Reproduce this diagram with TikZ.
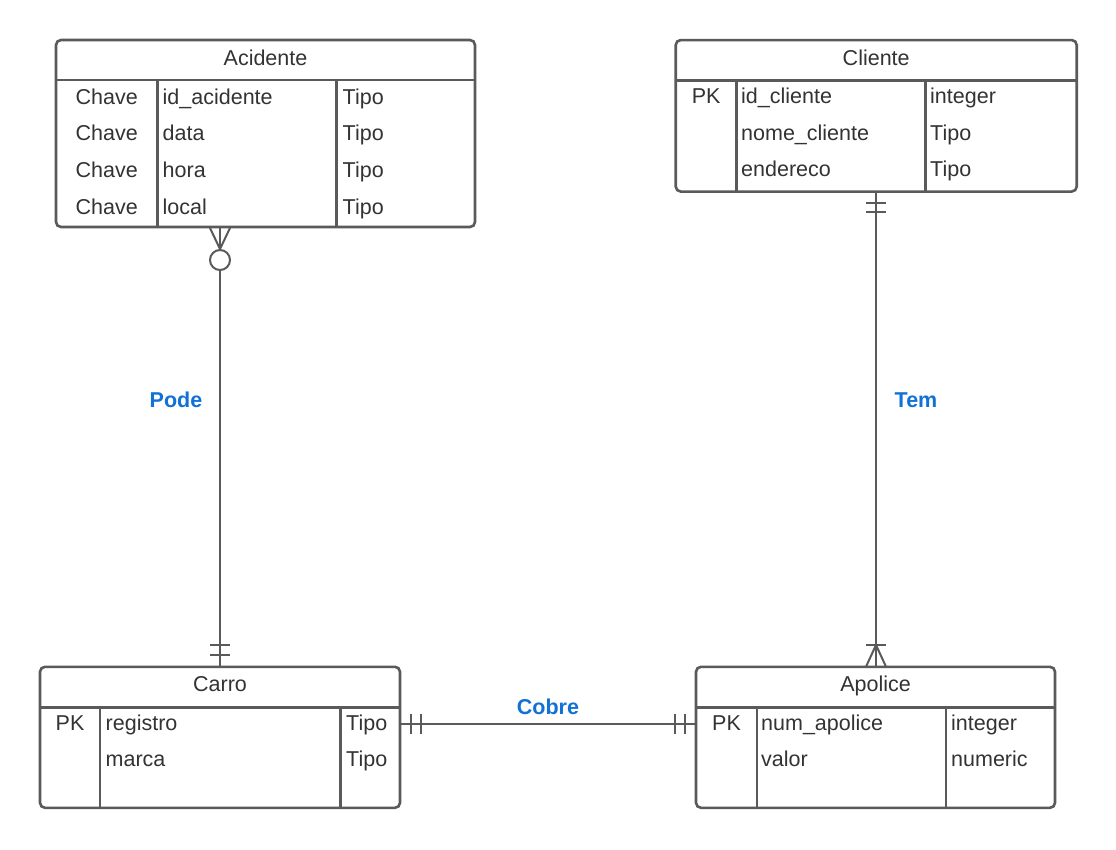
\documentclass[tikz,border=0pt]{standalone}
\usepackage{fontspec}
\setmainfont{Liberation Sans}
\definecolor{ln}{HTML}{5A5A5A}
\definecolor{tx}{HTML}{333333}
\definecolor{lb}{HTML}{1271D6}
\begin{document}
\begin{tikzpicture}[x=1pt,y=-1pt,
  tbl/.style={draw=ln,line width=2.6pt,rounded corners=5pt,inner sep=0pt,fill=white},
  sep/.style={draw=ln,line width=2.6pt},
  conn/.style={draw=ln,line width=2pt},
  txt/.style={inner sep=0pt,text=tx,font=\fontsize{21.5}{26}\selectfont},
  lt/.style={txt,anchor=base west},
  ct/.style={txt,anchor=base},
  rel/.style={inner sep=0pt,text=lb,font=\fontsize{21.5}{26}\selectfont\bfseries}]
\useasboundingbox[fill=white] (0,0) rectangle (1116,849);

% ---------- Acidente
\node[tbl,minimum width=419pt,minimum height=187pt] (acid) at (265.5,133.5) {};
\draw[sep] (56,80) -- (475,80);
\draw[sep] (157.3,80) -- (157.3,227);
\draw[sep] (336.7,80) -- (336.7,227);
\node[ct] (acidh) at (265.5,65) {Acidente};
\foreach \n/\y/\f in {1/104/id\_acidente,2/140.7/data,3/177.3/hora,4/214/local}{
  \node[ct] (acidk\n) at (106.7,\y) {Chave};
  \node[lt] (acidf\n) at (162.5,\y) {\f};
  \node[lt] (acidt\n) at (342.5,\y) {Tipo};
}

% ---------- Cliente
\node[tbl,minimum width=401pt,minimum height=151.5pt] (cli) at (876.2,115.8) {};
\draw[sep] (675.7,80.7) -- (1076.7,80.7);
\draw[sep] (736.7,80.7) -- (736.7,191.5);
\draw[sep] (925.7,80.7) -- (925.7,191.5);
\node[ct] (clih) at (876.2,65) {Cliente};
\node[ct] (clik1) at (706.2,103.3) {PK};
\foreach \n/\y/\f/\t in {1/103.3/id\_cliente/integer,2/140/nome\_cliente/Tipo,3/176.7/endereco/Tipo}{
  \node[lt] (clif\n) at (741,\y) {\f};
  \node[lt] (clit\n) at (930,\y) {\t};
}

% ---------- Carro
\node[tbl,minimum width=360pt,minimum height=141pt] (carro) at (220,737.3) {};
\draw[sep] (40,707.7) -- (400,707.7);
\draw[sep] (100,707.7) -- (100,808);
\draw[sep] (340.7,707.7) -- (340.7,808);
\node[ct] (carroh) at (220,691.7) {Carro};
\node[ct] (carrok1) at (70,730) {PK};
\foreach \n/\y/\f in {1/730/registro,2/766.7/marca}{
  \node[lt] (carrof\n) at (105.5,\y) {\f};
  \node[lt] (carrot\n) at (346,\y) {Tipo};
}

% ---------- Apolice
\node[tbl,minimum width=359pt,minimum height=141pt] (apo) at (875.5,737.3) {};
\draw[sep] (696,707.7) -- (1055,707.7);
\draw[sep] (757,707.7) -- (757,808);
\draw[sep] (946,707.7) -- (946,808);
\node[ct] (apoh) at (875.5,691.7) {Apolice};
\node[ct] (apok1) at (726.5,730) {PK};
\foreach \n/\y/\f/\t in {1/730/num\_apolice/integer,2/766.7/valor/numeric}{
  \node[lt] (apof\n) at (761,\y) {\f};
  \node[lt] (apot\n) at (951,\y) {\t};
}

% ---------- connector end points
\coordinate (pA) at (220,228);
\coordinate (pC) at (220,666.7);
\coordinate (tC) at (876,191.7);
\coordinate (tA) at (876,666.7);
\coordinate (cC) at (400,724);
\coordinate (cA) at (696,724);

% Pode: Acidente (zero or many) -- Carro (one and only one)
\draw[conn] (pA) -- (220,250);
\draw[conn] (210,228) -- (220,249) -- (230,228);
\draw[conn] (220,260) circle (10);
\draw[conn] (220,270) -- (pC);
\draw[conn] (210,645) -- (230,645);
\draw[conn] (210,655) -- (230,655);
\node[rel] (pode) at (176,400) {Pode};

% Tem: Cliente (one and only one) -- Apolice (one or many)
\draw[conn] (tC) -- (tA);
\draw[conn] (866,203) -- (886,203);
\draw[conn] (866,212) -- (886,212);
\draw[conn] (866,645) -- (886,645);
\draw[conn] (866,666.7) -- (876,645) -- (886,666.7);
\node[rel] (tem) at (916,400) {Tem};

% Cobre: Carro (one and only one) -- Apolice (one and only one)
\draw[conn] (cC) -- (cA);
\draw[conn] (411,714) -- (411,734);
\draw[conn] (421,714) -- (421,734);
\draw[conn] (675,714) -- (675,734);
\draw[conn] (685,714) -- (685,734);
\node[rel] (cobre) at (548,707) {Cobre};
\end{tikzpicture}
\end{document}
